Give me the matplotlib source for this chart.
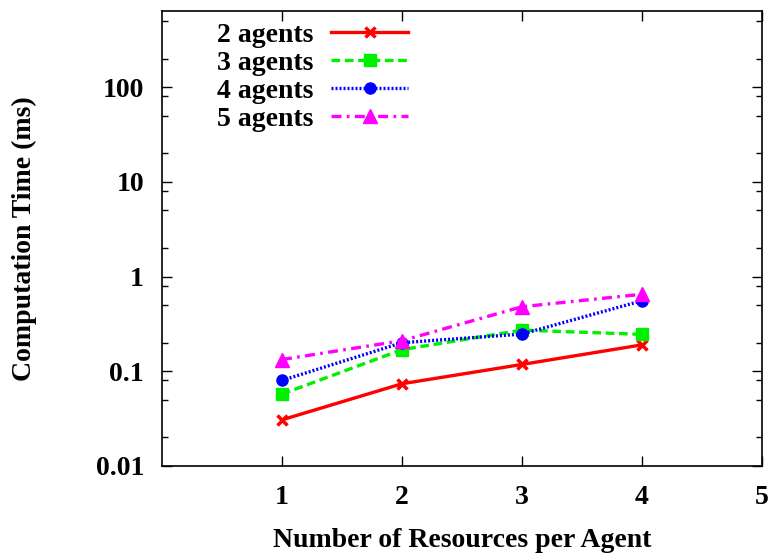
import matplotlib
matplotlib.use("Agg")
import matplotlib.pyplot as plt
from matplotlib.ticker import LogLocator, NullFormatter, FixedLocator

plt.rcParams["font.family"] = ["Liberation Serif", "DejaVu Serif"]
plt.rcParams["font.weight"] = "bold"

resources = [1, 2, 3, 4]
agents2 = [0.0307, 0.0738, 0.118, 0.190]
agents3 = [0.0574, 0.169, 0.272, 0.245]
agents4 = [0.0800, 0.200, 0.247, 0.555]
agents5 = [0.133, 0.210, 0.480, 0.650]

labels = ["2 agents", "3 agents", "4 agents", "5 agents"]
x_ticks = [1, 2, 3, 4, 5]
y_ticks = [0.01, 0.1, 1, 10, 100]
y_ticklabels = ["0.01", "0.1", "1", "10", "100"]

FS = 20

fig = plt.figure(figsize=(7.72, 5.55), dpi=100)
ax = fig.add_axes([0.2098, 0.1604, 0.7772, 0.8203])

ax.plot(resources, agents2, color="#ff0000", lw=2.4, ls="-",
        marker="x", ms=7, mew=2.5, label=labels[0])
ax.plot(resources, agents3, color="#00f000", lw=2.4, ls=(0, (2.6, 1.4)),
        marker="s", ms=8, mfc="#00f000", mec="#00f000", label=labels[1])
ax.plot(resources, agents4, color="#0000ff", lw=2.4, ls=(0, (0.6, 0.6)),
        marker="o", ms=8, mfc="#0000ff", mec="#0000ff", label=labels[2])
ax.plot(resources, agents5, color="#ff00ff", lw=2.4, ls=(0, (3, 1.6, 0.8, 1.6)),
        marker="^", ms=10, mfc="#ff00ff", mec="#ff00ff", label=labels[3])

ax.set_yscale("log")
ax.set_xlim(0, 5)
ax.set_ylim(0.01, 640)
ax.set_xticks(x_ticks)
ax.set_xticklabels([str(v) for v in x_ticks], fontsize=FS, fontweight="bold")
ax.yaxis.set_major_locator(FixedLocator(y_ticks))
ax.set_yticklabels(y_ticklabels, fontsize=FS, fontweight="bold")
ax.yaxis.set_minor_locator(LogLocator(base=10, subs=(2, 5, 8), numticks=20))
ax.yaxis.set_minor_formatter(NullFormatter())

ax.tick_params(axis="both", which="major", direction="in", length=7, width=1,
               top=True, right=True)
ax.tick_params(axis="y", which="minor", direction="in", length=4, width=1,
               right=True, left=True)
ax.tick_params(axis="x", which="major", pad=14)
ax.tick_params(axis="y", which="major", pad=13)
for s in ax.spines.values():
    s.set_linewidth(1.2)

ax.set_xlabel("Number of Resources per Agent", fontsize=FS, fontweight="bold",
              labelpad=13)
ax.set_ylabel("Computation Time (ms)", fontsize=FS, fontweight="bold",
              labelpad=42)

ax.legend(loc="upper left", bbox_to_anchor=(0.0917, 0.975), frameon=False,
          markerfirst=False, fontsize=FS, handlelength=2.75, handletextpad=0.65,
          labelspacing=0.1, borderpad=0, borderaxespad=0)

fig.savefig("out.png", dpi=100)
